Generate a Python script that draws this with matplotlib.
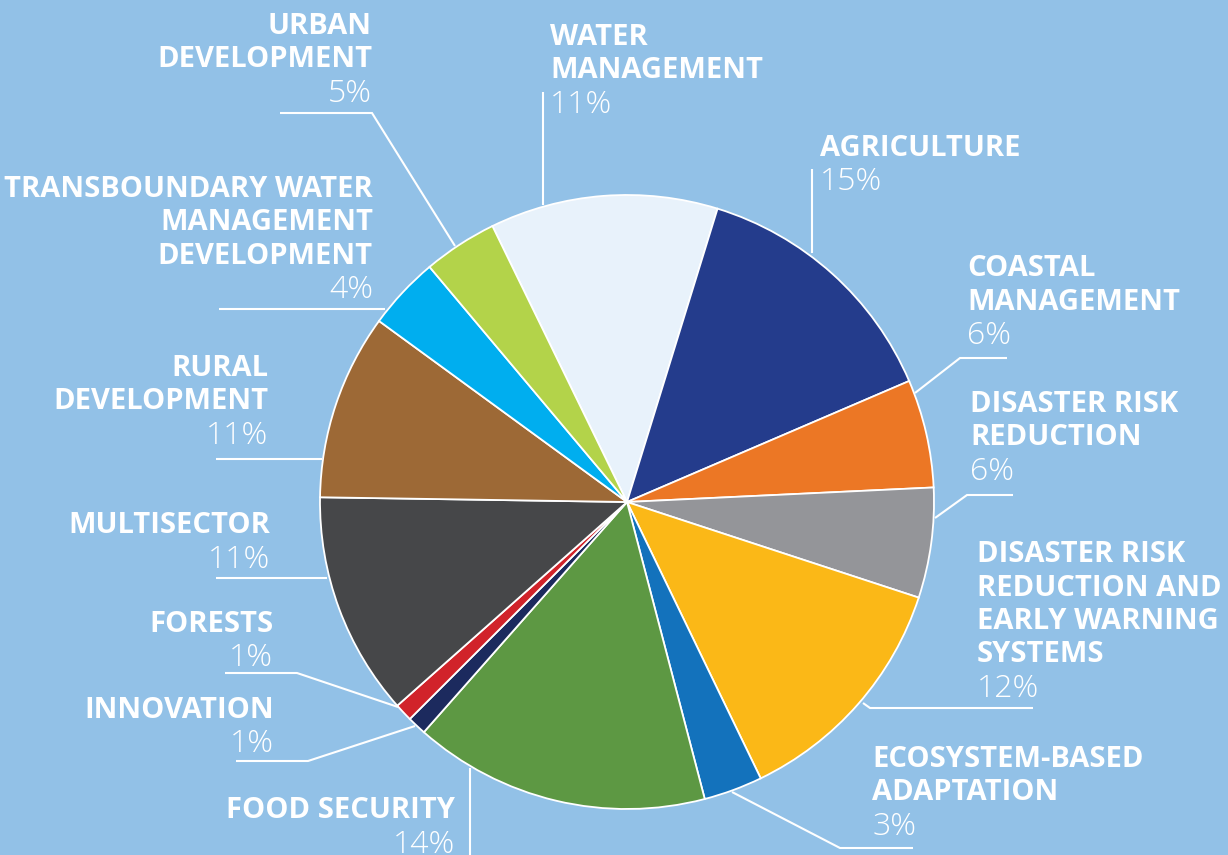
import matplotlib
matplotlib.use("Agg")
import matplotlib.pyplot as plt

# ---- data (clockwise from top) ----
categories = ["WATER\nMANAGEMENT", "AGRICULTURE", "COASTAL\nMANAGEMENT",
              "DISASTER RISK\nREDUCTION",
              "DISASTER RISK\nREDUCTION AND\nEARLY WARNING\nSYSTEMS",
              "ECOSYSTEM-BASED\nADAPTATION", "FOOD SECURITY", "INNOVATION",
              "FORESTS", "MULTISECTOR", "RURAL\nDEVELOPMENT",
              "TRANSBOUNDARY WATER\nMANAGEMENT\nDEVELOPMENT",
              "URBAN\nDEVELOPMENT"]
shares = [12.0, 13.8, 5.7, 5.8, 12.8, 3.1, 15.6, 1.0, 0.95, 11.8, 9.8, 3.85, 3.9]
pct_labels = ["11%", "15%", "6%", "6%", "12%", "3%", "14%", "1%", "1%",
              "11%", "11%", "4%", "5%"]
colors = ["#e8f2fb", "#243c8c", "#ec7725", "#949599", "#fbb817", "#1372bc",
          "#5d9843", "#1c2a5e", "#d1232a", "#464749", "#9d6936", "#00aeef",
          "#b3d34a"]

BG = "#92c1e7"
W, H = 1228, 855

# ---- layout (pixel coordinates, y from top) ----
label_pos = [  # x, first baseline, ha
    (550, 45, "left"), (820, 156, "left"), (967, 276, "left"),
    (970, 412, "left"), (977, 562, "left"), (872, 767, "left"),
    (455, 818, "right"), (274, 718, "right"), (273, 632, "right"),
    (270, 533, "right"), (268, 376, "right"), (373, 197, "right"),
    (372, 34, "right"),
]
leaders = [
    [(543, 92), (543, 205)],
    [(812, 169), (812, 253)],
    [(1007, 358), (960, 358), (915, 393)],
    [(1013, 495), (967, 495), (935, 518)],
    [(1033, 708), (870, 708), (863, 703)],
    [(913, 848), (840, 848), (732, 792)],
    [(470, 768), (470, 856)],
    [(236, 761), (308, 761), (415, 726)],
    [(225, 673), (297, 673), (398, 707)],
    [(216, 578), (327, 578)],
    [(216, 459), (322, 459)],
    [(219, 309), (385, 309)],
    [(280, 113), (372, 113), (455, 246)],
]
LINE = 33.5

fig = plt.figure(figsize=(W / 100, H / 100), dpi=100, facecolor=BG)
ax = fig.add_axes([0, 0, 1, 1])
ax.set_facecolor(BG)

ax.pie(shares, colors=colors, startangle=116, counterclock=False,
       center=(627, H - 502), radius=307,
       wedgeprops=dict(edgecolor="white", linewidth=1.3))

for pts in leaders:
    xs = [p[0] for p in pts]
    ys = [H - p[1] for p in pts]
    ax.plot(xs, ys, color="white", lw=1.5, solid_capstyle="butt",
            solid_joinstyle="miter", zorder=1)

for cat, pct, (x, y0, ha) in zip(categories, pct_labels, label_pos):
    lines = cat.split("\n")
    for i, ln in enumerate(lines):
        ax.text(x, H - (y0 + i * LINE), ln, ha=ha, va="baseline",
                color="white", fontsize=21, fontweight="bold",
                family="Open Sans")
    ax.text(x, H - (y0 + len(lines) * LINE + 1), pct, ha=ha, va="baseline",
            color="white", fontsize=23, fontweight="light",
            family="Open Sans")

ax.set_xlim(0, W)
ax.set_ylim(0, H)
ax.set_aspect("equal")
ax.axis("off")

fig.savefig("out.png", dpi=100, facecolor=BG)
